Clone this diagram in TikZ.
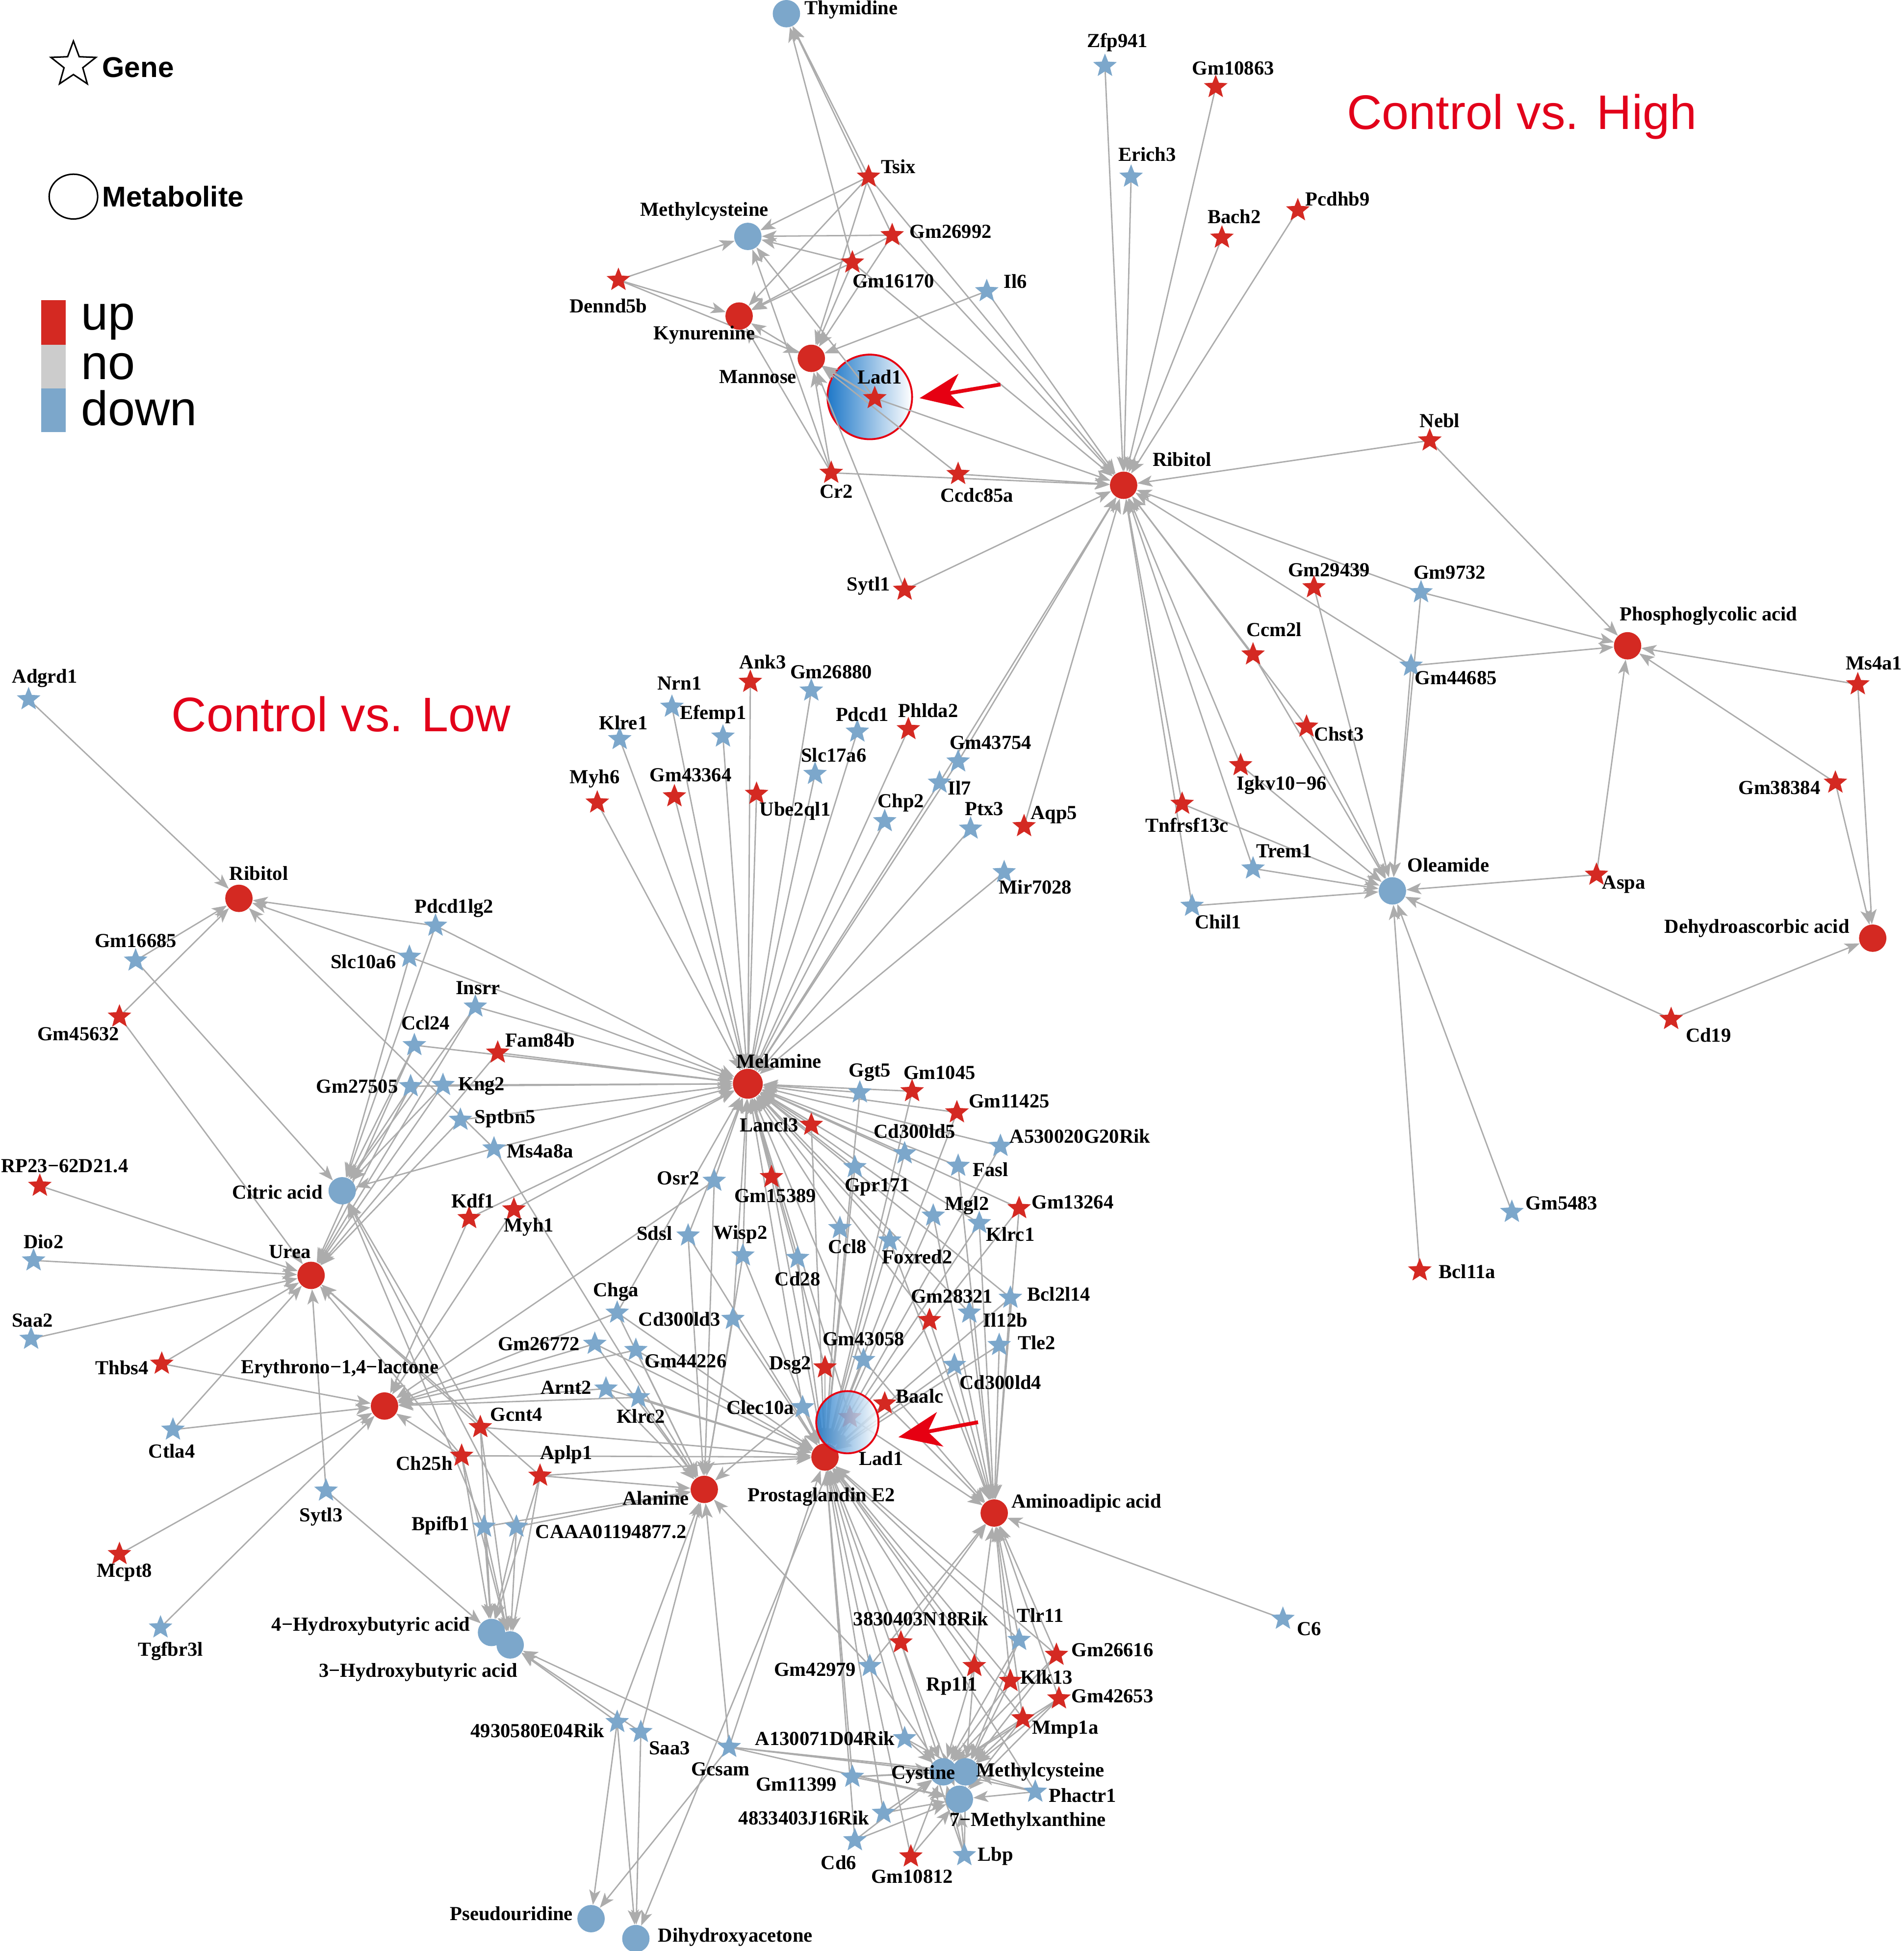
\documentclass[tikz,border=0pt]{standalone}
\usepackage{fontspec}
\setmainfont{Liberation Serif}
\newfontfamily\sansf{Liberation Sans}
\usetikzlibrary{shapes.geometric,arrows.meta}
\definecolor{upred}{RGB}{212,41,34}
\definecolor{downblue}{RGB}{124,167,203}
\definecolor{nogray}{RGB}{204,204,204}
\definecolor{edgegray}{RGB}{172,172,172}
\definecolor{titlered}{RGB}{226,0,26}
\definecolor{arrowred}{RGB}{230,0,18}
\definecolor{lblue}{RGB}{30,120,200}
\pgfdeclarelayer{back}
\pgfdeclarelayer{edges}
\pgfdeclarelayer{front}
\pgfsetlayers{back,edges,main,front}
\newcommand{\mkG}[7]{%
  \node[gene,fill=#4] (#1) at (#2,#3) {};%
  \begin{pgfonlayer}{front}\node[lbl] (#1-l) at (#6,#7) {#5};\end{pgfonlayer}}
\newcommand{\mkM}[7]{%
  \node[met,fill=#4] (#1) at (#2,#3) {};%
  \begin{pgfonlayer}{front}\node[lbl] (#1-l) at (#6,#7) {#5};\end{pgfonlayer}}
\begin{document}
\begin{tikzpicture}[x=1pt,y=-1pt,
  gene/.style={star, star points=5, star point ratio=2.3, minimum size=20, inner sep=0, draw=none},
  met/.style={circle, minimum size=22, inner sep=0, draw=none},
  lbl/.style={font=\fontsize{16}{18}\selectfont\bfseries, inner sep=0, text=black},
  edge/.style={draw=edgegray, line width=1.1pt, -{Stealth[length=12pt,width=9pt,inset=3pt]}},
  bigarrow/.style={draw=arrowred, line width=3pt, -{Stealth[length=34pt,width=28pt,inset=10pt]}}]
\useasboundingbox (0,0) rectangle (1530,1568);

% ---------------- legend ----------------
\node[star, star points=5, star point ratio=2.4, minimum size=38, draw=black, line width=1.2pt, fill=white, inner sep=0] (legstar) at (59,52) {};
\node[anchor=west, font=\sansf\bfseries\fontsize{23}{26}\selectfont, inner sep=0] (legG) at (82,54) {Gene};
\node[ellipse, minimum width=39, minimum height=36, draw=black, line width=1.2pt, inner sep=0] (legcirc) at (59,158) {};
\node[anchor=west, font=\sansf\bfseries\fontsize{23}{26}\selectfont, inner sep=0] (legM) at (82,158) {Metabolite};
\node[rectangle, fill=upred, minimum width=19.5, minimum height=36, inner sep=0, anchor=north west] (legup) at (33,241) {};
\node[rectangle, fill=nogray, minimum width=19.5, minimum height=35, inner sep=0, anchor=north west] (legno) at (33,277) {};
\node[rectangle, fill=downblue, minimum width=19.5, minimum height=35, inner sep=0, anchor=north west] (legdown) at (33,312) {};
\node[anchor=base west, font=\sansf\fontsize{39}{44}\selectfont, inner sep=0] (legupt) at (65,265) {up};
\node[anchor=base west, font=\sansf\fontsize{39}{44}\selectfont, inner sep=0] (legnot) at (65,305) {no};
\node[anchor=base west, font=\sansf\fontsize{39}{44}\selectfont, inner sep=0] (legdownt) at (65,342) {down};

% titles
\node[anchor=base, font=\sansf\fontsize{39}{44}\selectfont, text=titlered, inner sep=0] (titleH) at (1223,104) {Control vs. High};
\node[anchor=base, font=\sansf\fontsize{39}{44}\selectfont, text=titlered, inner sep=0] (titleL) at (274,588) {Control vs. Low};

% highlight circle (top) behind edges
\begin{pgfonlayer}{back}
\shade[left color=lblue, right color=white] (699,319) circle (34);
\draw[arrowred, line width=1.5pt] (699,319) circle (34);
\end{pgfonlayer}

% ---------------- top network ----------------
\mkM{mThy}{632}{11}{downblue}{Thymidine}{684}{8}
\mkM{mMcH}{601}{190}{downblue}{Methylcysteine}{566}{170}
\mkM{mKyn}{594}{254}{upred}{Kynurenine}{566}{269}
\mkM{mMan}{652}{288}{upred}{Mannose}{609}{303}
\mkM{mRibH}{903}{390}{upred}{Ribitol}{950}{369}
\mkM{mPGA}{1308}{519}{upred}{Phosphoglycolic acid}{1373}{495}
\mkM{mOle}{1119}{716}{downblue}{Oleamide}{1164}{695}
\mkM{mDHAs}{1505}{754}{upred}{Dehydroascorbic acid}{1412}{746}

\mkG{gTsix}{698}{142}{upred}{Tsix}{722}{134}
\mkG{gGm26992}{717}{189}{upred}{Gm26992}{764}{186}
\mkG{gGm16170}{685}{211}{upred}{Gm16170}{718}{226}
\mkG{gDennd5b}{497}{225}{upred}{Dennd5b}{489}{246}
\mkG{gIl6}{793}{234}{downblue}{Il6}{816}{226}
\mkG{gLad1H}{703}{320}{upred}{Lad1}{707}{303}
\mkG{gCr2}{668}{380}{upred}{Cr2}{672}{395}
\mkG{gCcdc85a}{770}{381}{upred}{Ccdc85a}{785}{398}
\mkG{gSytl1}{727}{474}{upred}{Sytl1}{698}{471}
\mkG{gZfp941}{888}{53}{downblue}{Zfp941}{898}{34}
\mkG{gGm10863}{977}{70}{upred}{Gm10863}{991}{55}
\mkG{gErich3}{909}{142}{downblue}{Erich3}{922}{124}
\mkG{gBach2}{982}{191}{upred}{Bach2}{992}{174}
\mkG{gPcdhb9}{1043}{169}{upred}{Pcdhb9}{1075}{160}
\mkG{gNebl}{1149}{354}{upred}{Nebl}{1157}{338}
\mkG{gGm29439}{1056}{472}{upred}{Gm29439}{1068}{458}
\mkG{gGm9732}{1142}{476}{downblue}{Gm9732}{1165}{460}
\mkG{gCcm2l}{1007}{526}{upred}{Ccm2l}{1024}{506}
\mkG{gGm44685}{1134}{535}{downblue}{Gm44685}{1170}{545}
\mkG{gMs4a1}{1493}{550}{upred}{Ms4a1}{1506}{533}
\mkG{gChst3}{1050}{584}{upred}{Chst3}{1076}{590}
\mkG{gIgkv}{997}{615}{upred}{Igkv10−96}{1030}{631}
\mkG{gGm38384}{1475}{629}{upred}{Gm38384}{1430}{633}
\mkG{gTnfrsf13c}{950}{646}{upred}{Tnfrsf13c}{954}{663}
\mkG{gTrem1}{1007}{698}{downblue}{Trem1}{1032}{684}
\mkG{gAspa}{1283}{703}{upred}{Aspa}{1305}{711}
\mkG{gChil1}{958}{728}{downblue}{Chil1}{979}{741}
\mkG{gCd19}{1343}{819}{upred}{Cd19}{1373}{832}
\mkG{gGm5483}{1215}{974}{downblue}{Gm5483}{1255}{967}
\mkG{gBcl11a}{1141}{1021}{upred}{Bcl11a}{1179}{1022}

% ---------------- lower network: metabolites ----------------
\mkM{mRibL}{192}{722}{upred}{Ribitol}{208}{702}
\mkM{mCit}{275}{957}{downblue}{Citric acid}{223}{958}
\mkM{mUrea}{250}{1025}{upred}{Urea}{233}{1006}
\mkM{mEry}{309}{1130}{upred}{Erythrono−1,4−lactone}{273}{1100}
\node[met,fill=upred,minimum size=24] (mMel) at (601,871) {};
\begin{pgfonlayer}{front}\node[lbl] (mMel-l) at (626,853) {Melamine};\end{pgfonlayer}
\mkM{mAla}{566}{1197}{upred}{Alanine}{527}{1204}
\mkM{mPGE}{663}{1171}{upred}{Prostaglandin E2}{660}{1203}
\mkM{mAmi}{799}{1216}{upred}{Aminoadipic acid}{873}{1208}
\mkM{mHBAf}{395}{1312}{downblue}{4−Hydroxybutyric acid}{298}{1307}
\mkM{mHBAt}{410}{1322}{downblue}{3−Hydroxybutyric acid}{336}{1344}
\mkM{mCys}{758}{1424}{downblue}{Cystine}{742}{1426}
\mkM{mMcL}{776}{1424}{downblue}{Methylcysteine}{836}{1424}
\mkM{mMX}{771}{1446}{downblue}{7−Methylxanthine}{826}{1464}
\mkM{mPse}{475}{1542}{downblue}{Pseudouridine}{411}{1538}
\mkM{mDha}{511}{1558}{downblue}{Dihydroxyacetone}{591}{1557}

% ---------------- lower network: genes ----------------
\mkG{gAdgrd1}{23}{562}{downblue}{Adgrd1}{36}{545}
\mkG{gGm16685}{109}{772}{downblue}{Gm16685}{109}{756}
\mkG{gGm45632}{96}{817}{upred}{Gm45632}{63}{831}
\mkG{gPdcd1lg2}{350}{744}{downblue}{Pdcd1lg2}{365}{730}
\mkG{gSlc10a6}{329}{769}{downblue}{Slc10a6}{292}{773}
\mkG{gInsrr}{382}{809}{downblue}{Insrr}{384}{794}
\mkG{gCcl24}{333}{840}{downblue}{Ccl24}{342}{822}
\mkG{gFam84b}{400}{846}{upred}{Fam84b}{434}{836}
\mkG{gGm27505}{330}{873}{downblue}{Gm27505}{287}{873}
\mkG{gKng2}{356}{872}{downblue}{Kng2}{387}{873}
\mkG{gSptbn5}{370}{900}{downblue}{Sptbn5}{406}{899}
\mkG{gMs4a8a}{397}{923}{downblue}{Ms4a8a}{434}{925}
\mkG{gRP23}{32}{953}{upred}{RP23−62D21.4}{52}{937}
\mkG{gKdf1}{377}{979}{upred}{Kdf1}{380}{965}
\mkG{gMyh1}{413}{972}{upred}{Myh1}{425}{986}
\mkG{gDio2}{27}{1013}{downblue}{Dio2}{35}{998}
\mkG{gSaa2}{25}{1076}{downblue}{Saa2}{26}{1061}
\mkG{gThbs4}{130}{1096}{upred}{Thbs4}{98}{1099}
\mkG{gCtla4}{139}{1149}{downblue}{Ctla4}{138}{1166}
\mkG{gGcnt4}{386}{1147}{upred}{Gcnt4}{415}{1137}
\mkG{gCh25h}{371}{1170}{upred}{Ch25h}{341}{1176}
\mkG{gAplp1}{434}{1186}{upred}{Aplp1}{455}{1169}
\mkG{gSytl3}{262}{1198}{downblue}{Sytl3}{258}{1219}
\mkG{gBpifb1}{389}{1227}{downblue}{Bpifb1}{354}{1226}
\mkG{gCAAA}{415}{1227}{downblue}{CAAA01194877.2}{491}{1231}
\mkG{gMcpt8}{96}{1249}{upred}{Mcpt8}{100}{1264}
\mkG{gTgfbr3l}{129}{1308}{downblue}{Tgfbr3l}{137}{1327}
\mkG{gGm26772}{478}{1080}{downblue}{Gm26772}{433}{1080}
\mkG{gArnt2}{487}{1116}{downblue}{Arnt2}{455}{1115}
\mkG{gChga}{496}{1055}{downblue}{Chga}{495}{1038}
\mkG{gGm44226}{511}{1085}{downblue}{Gm44226}{551}{1094}
\mkG{gKlrc2}{513}{1123}{downblue}{Klrc2}{515}{1138}

\mkG{gAnk3}{603}{548}{upred}{Ank3}{613}{532}
\mkG{gGm26880}{652}{555}{downblue}{Gm26880}{668}{540}
\mkG{gNrn1}{540}{568}{downblue}{Nrn1}{546}{549}
\mkG{gEfemp1}{581}{592}{downblue}{Efemp1}{573}{574}
\mkG{gKlre1}{498}{594}{downblue}{Klre1}{501}{581}
\mkG{gPdcd1}{689}{588}{downblue}{Pdcd1}{693}{574}
\mkG{gPhlda2}{730}{586}{upred}{Phlda2}{746}{571}
\mkG{gSlc17a6}{655}{622}{downblue}{Slc17a6}{670}{607}
\mkG{gGm43754}{770}{612}{downblue}{Gm43754}{796}{597}
\mkG{gMyh6}{480}{645}{upred}{Myh6}{478}{626}
\mkG{gGm43364}{542}{640}{upred}{Gm43364}{555}{623}
\mkG{gUbe2ql1}{608}{638}{upred}{Ube2ql1}{639}{652}
\mkG{gIl7}{755}{629}{downblue}{Il7}{771}{633}
\mkG{gChp2}{711}{660}{downblue}{Chp2}{724}{645}
\mkG{gPtx3}{780}{666}{downblue}{Ptx3}{791}{650}
\mkG{gAqp5}{823}{664}{upred}{Aqp5}{847}{655}
\mkG{gMir7028}{807}{701}{downblue}{Mir7028}{832}{713}

\mkG{gGgt5}{691}{878}{downblue}{Ggt5}{699}{862}
\mkG{gGm1045}{733}{877}{upred}{Gm1045}{755}{862}
\mkG{gGm11425}{769}{894}{upred}{Gm11425}{811}{885}
\mkG{gLancl3}{652}{904}{upred}{Lancl3}{618}{904}
\mkG{gCd300ld5}{727}{927}{downblue}{Cd300ld5}{735}{909}
\mkG{gA530}{804}{921}{downblue}{A530020G20Rik}{868}{913}
\mkG{gGpr171}{687}{938}{downblue}{Gpr171}{705}{954}
\mkG{gFasl}{770}{937}{downblue}{Fasl}{796}{940}
\mkG{gOsr2}{574}{949}{downblue}{Osr2}{545}{947}
\mkG{gGm15389}{620}{946}{upred}{Gm15389}{623}{961}
\mkG{gMgl2}{750}{977}{downblue}{Mgl2}{777}{969}
\mkG{gGm13264}{819}{971}{upred}{Gm13264}{862}{966}
\mkG{gKlrc1}{787}{983}{downblue}{Klrc1}{812}{992}
\mkG{gSdsl}{553}{993}{downblue}{Sdsl}{526}{991}
\mkG{gWisp2}{597}{1009}{downblue}{Wisp2}{595}{992}
\mkG{gCcl8}{675}{987}{downblue}{Ccl8}{681}{1002}
\mkG{gFoxred2}{715}{997}{downblue}{Foxred2}{737}{1010}
\mkG{gCd28}{641}{1011}{downblue}{Cd28}{641}{1028}
\mkG{gCd300ld3}{589}{1060}{downblue}{Cd300ld3}{546}{1060}
\mkG{gGm28321}{747}{1061}{upred}{Gm28321}{765}{1042}
\mkG{gBcl2l14}{812}{1043}{downblue}{Bcl2l14}{851}{1040}
\mkG{gIl12b}{779}{1055}{downblue}{Il12b}{808}{1061}
\mkG{gTle2}{803}{1081}{downblue}{Tle2}{833}{1079}
\mkG{gGm43058}{694}{1093}{downblue}{Gm43058}{694}{1076}
\mkG{gDsg2}{663}{1099}{upred}{Dsg2}{635}{1097}
\mkG{gCd300ld4}{767}{1097}{downblue}{Cd300ld4}{804}{1111}
\mkG{gClec10a}{645}{1131}{downblue}{Clec10a}{611}{1131}
\mkG{gLad1L}{683}{1139}{upred}{Lad1}{708}{1172}
% lower highlight circle over the Lad1 star
\shade[left color=lblue, right color=white, opacity=0.85] (681,1143) circle (25);
\draw[arrowred, line width=1.5pt] (681,1143) circle (25);
\mkG{gBaalc}{711}{1128}{upred}{Baalc}{739}{1122}
\mkG{gC6}{1031}{1301}{downblue}{C6}{1052}{1309}

\mkG{gN18}{724}{1320}{upred}{3830403N18Rik}{740}{1301}
\mkG{gTlr11}{819}{1318}{downblue}{Tlr11}{836}{1298}
\mkG{gGm26616}{849}{1330}{upred}{Gm26616}{894}{1326}
\mkG{gGm42979}{699}{1339}{downblue}{Gm42979}{655}{1342}
\mkG{gRp1l1}{783}{1339}{upred}{Rp1l1}{765}{1355}
\mkG{gKlk13}{812}{1351}{upred}{Klk13}{841}{1348}
\mkG{gGm42653}{851}{1365}{upred}{Gm42653}{894}{1363}
\mkG{gMmp1a}{822}{1381}{upred}{Mmp1a}{856}{1390}
\mkG{gE04}{496}{1384}{downblue}{4930580E04Rik}{432}{1391}
\mkG{gSaa3}{515}{1392}{downblue}{Saa3}{538}{1405}
\mkG{gD04}{727}{1397}{downblue}{A130071D04Rik}{663}{1397}
\mkG{gGcsam}{586}{1404}{downblue}{Gcsam}{579}{1422}
\mkG{gGm11399}{685}{1428}{downblue}{Gm11399}{640}{1434}
\mkG{gJ16}{710}{1457}{downblue}{4833403J16Rik}{646}{1461}
\mkG{gPhactr1}{832}{1440}{downblue}{Phactr1}{870}{1443}
\mkG{gCd6}{687}{1479}{downblue}{Cd6}{674}{1497}
\mkG{gGm10812}{732}{1492}{upred}{Gm10812}{733}{1508}
\mkG{gLbp}{775}{1491}{downblue}{Lbp}{800}{1492}

% red pointer arrows
\coordinate (ar1s) at (804,309);
\coordinate (ar1e) at (739,320);
\coordinate (ar2s) at (786,1143);
\coordinate (ar2e) at (722,1155);
\begin{pgfonlayer}{front}
\draw[bigarrow] (ar1s) -- (ar1e);
\draw[bigarrow] (ar2s) -- (ar2e);
\end{pgfonlayer}

% ---------------- edges ----------------
\begin{pgfonlayer}{edges}
% top network
\foreach \g in {gTsix,gGm16170,gGm26992} \draw[edge] (\g.center) -- (mThy);
\foreach \g in {gTsix,gGm26992,gGm16170,gDennd5b,gCr2,gLad1H} \draw[edge] (\g.center) -- (mMcH);
\foreach \g in {gDennd5b,gTsix,gGm16170,gGm26992,gCr2,gLad1H} \draw[edge] (\g.center) -- (mKyn);
\foreach \g in {gDennd5b,gTsix,gGm26992,gGm16170,gIl6,gLad1H,gCr2,gSytl1,gCcdc85a} \draw[edge] (\g.center) -- (mMan);
\foreach \g in {gZfp941,gGm10863,gErich3,gBach2,gPcdhb9,gNebl,gTsix,gGm26992,gGm16170,gIl6,gLad1H,gCr2,gCcdc85a,gSytl1,gIl7,gGm43754,gAqp5,gGm9732,gGm44685,gCcm2l,gChst3,gIgkv,gTnfrsf13c,gChil1,gTrem1} \draw[edge] (\g.center) -- (mRibH);
\foreach \g in {gGm29439,gGm9732,gGm44685,gCcm2l,gChst3,gIgkv,gTnfrsf13c,gTrem1,gChil1,gAspa,gCd19,gGm5483,gBcl11a} \draw[edge] (\g.center) -- (mOle);
\foreach \g in {gNebl,gGm9732,gGm44685,gMs4a1,gGm38384,gAspa} \draw[edge] (\g.center) -- (mPGA);
\foreach \g in {gMs4a1,gGm38384,gCd19} \draw[edge] (\g.center) -- (mDHAs);
% lower network
\foreach \g in {gAnk3,gGm26880,gNrn1,gEfemp1,gKlre1,gPdcd1,gPhlda2,gSlc17a6,gGm43754,gMyh6,gGm43364,gUbe2ql1,gIl7,gChp2,gPtx3,gMir7028,
  gPdcd1lg2,gSlc10a6,gInsrr,gCcl24,gFam84b,gGm27505,gKng2,gSptbn5,gMs4a8a,gKdf1,gMyh1,
  gGgt5,gGm1045,gGm11425,gLancl3,gCd300ld5,gA530,gGpr171,gFasl,gOsr2,gGm15389,gMgl2,gGm13264,gKlrc1,gSdsl,gWisp2,gCcl8,gFoxred2,gCd28,gBcl2l14,gIl12b,gGm28321,gCd300ld3,gChga,gGm43058,gDsg2,gLad1L,gClec10a}
  \draw[edge] (\g.center) -- (mMel);
\foreach \g in {gAdgrd1,gGm16685,gGm45632,gPdcd1lg2,gSlc10a6,gMs4a8a} \draw[edge] (\g.center) -- (mRibL);
\foreach \g in {gGm16685,gPdcd1lg2,gSlc10a6,gInsrr,gCcl24,gGm27505,gKng2,gMs4a8a,gBpifb1,gCAAA,gGcnt4} \draw[edge] (\g.center) -- (mCit);
\foreach \g in {gGm45632,gRP23,gDio2,gSaa2,gThbs4,gCtla4,gSytl3,gInsrr,gCcl24,gGm27505,gKng2,gFam84b,gSptbn5,gGcnt4,gCh25h,gAplp1} \draw[edge] (\g.center) -- (mUrea);
\foreach \g in {gThbs4,gCtla4,gMcpt8,gTgfbr3l,gKdf1,gMyh1,gGm26772,gArnt2,gChga,gGm44226,gKlrc2,gCh25h,gOsr2} \draw[edge] (\g.center) -- (mEry);
\foreach \g in {gOsr2,gSdsl,gChga,gCd300ld3,gKlrc2,gArnt2,gGm44226,gGm26772,gMs4a8a,gAplp1,gCAAA,gBpifb1,gClec10a,gWisp2,gE04,gSaa3,gGcsam,gGm42979} \draw[edge] (\g.center) -- (mAla);
\foreach \g in {gGcnt4,gCh25h,gAplp1,gKlrc2,gArnt2,gGm26772,gGm44226,gChga,gClec10a,gDsg2,gGm43058,gLad1L,gBaalc,gLancl3,gGm15389,gCd28,gCcl8,gGpr171,gWisp2,gCd300ld5,gGgt5,gGm1045,gGm11425,gA530,gMgl2,gGm13264,gKlrc1,gFoxred2,gCd300ld4,gTle2,gBcl2l14,gCd300ld3,gN18,gTlr11,gGm26616,gRp1l1,gKlk13,gMmp1a,gD04,gGm11399,gJ16,gCd6,gGm10812,gLbp,gPhactr1,gGcsam,gSdsl}
  \draw[edge] (\g.center) -- (mPGE);
\foreach \g in {gLad1L,gBaalc,gFasl,gGm28321,gIl12b,gTle2,gBcl2l14,gCd300ld4,gGm43058,gFoxred2,gKlrc1,gMgl2,gGm13264,gC6,gN18,gTlr11,gGm26616,gGm42979,gRp1l1,gKlk13,gGm42653,gMmp1a} \draw[edge] (\g.center) -- (mAmi);
\foreach \g in {gSytl3,gGcnt4,gCh25h,gBpifb1,gCAAA,gAplp1} \draw[edge] (\g.center) -- (mHBAf);
\foreach \g in {gGcnt4,gCh25h,gBpifb1,gCAAA,gAplp1,gE04,gSaa3,gGcsam} \draw[edge] (\g.center) -- (mHBAt);
\foreach \g in {gN18,gTlr11,gGm26616,gGm42979,gRp1l1,gKlk13,gGm42653,gMmp1a,gD04,gGcsam,gGm11399,gJ16,gCd6,gGm10812,gLbp,gPhactr1} \draw[edge] (\g.center) -- (mCys);
\foreach \g in {gTlr11,gGm26616,gKlk13,gGm42653,gMmp1a,gD04,gGcsam,gGm11399,gPhactr1,gLbp,gRp1l1} \draw[edge] (\g.center) -- (mMcL);
\foreach \g in {gGcsam,gGm11399,gJ16,gCd6,gGm10812,gLbp,gPhactr1,gMmp1a,gGm42653,gN18} \draw[edge] (\g.center) -- (mMX);
\foreach \g in {gE04,gGcsam} \draw[edge] (\g.center) -- (mPse);
\foreach \g in {gE04,gSaa3,gLad1L} \draw[edge] (\g.center) -- (mDha);
\end{pgfonlayer}
\end{tikzpicture}
\end{document}
